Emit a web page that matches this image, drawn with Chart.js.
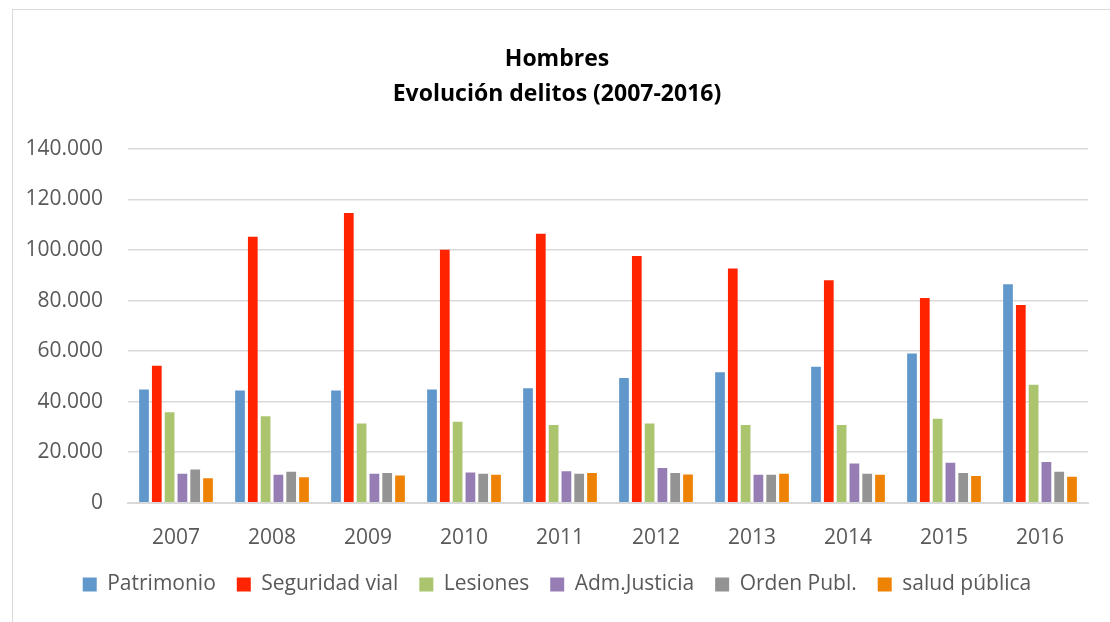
<!DOCTYPE html>
<html>
<head>
<meta charset="utf-8">
<script src="https://cdn.jsdelivr.net/npm/chart.js@4"></script>
<style>
  html, body { margin: 0; padding: 0; background: #fff; overflow: hidden; }
  .frame {
    position: absolute; left: 12px; top: 9px; width: 1110px; height: 630px;
    border: 1px solid #d9d9d9; box-sizing: border-box;
  }
  .box { position: absolute; left: 13px; top: 10px; width: 1097px; height: 612px; }
</style>
</head>
<body>
<div class="frame"></div>
<div class="box"><canvas id="chart"></canvas></div>
<script>
// Data
const years = ["2007", "2008", "2009", "2010", "2011", "2012", "2013", "2014", "2015", "2016"]
const patrimonio = [44800, 44400, 44400, 44800, 45300, 49400, 51600, 53800, 59100, 86500]
const seguridadVial = [54200, 105300, 114600, 100100, 106400, 97600, 92700, 88000, 81000, 78300]
const lesiones = [35800, 34200, 31400, 32100, 30800, 31400, 30800, 30800, 33300, 46700]
const admJusticia = [11500, 11100, 11500, 12000, 12500, 13800, 11100, 15500, 15800, 16100]
const ordenPubl = [13200, 12300, 11800, 11500, 11500, 11800, 11100, 11500, 11800, 12300]
const saludPublica = [9700, 10100, 10800, 11100, 11800, 11200, 11500, 11100, 10600, 10300]

const seriesNames = ["Patrimonio", "Seguridad vial", "Lesiones", "Adm.Justicia", "Orden Publ.", "salud pública"]
const seriesColors = ["#6198CC", "#FF2400", "#ABC46E", "#967EB4", "#939393", "#EE8205"]
const seriesData = [patrimonio, seguridadVial, lesiones, admJusticia, ordenPubl, saludPublica]

const textColor = "#595959"
const fontFamily = "'Open Sans', sans-serif"
const legendGap = "\u2002\u2002" // spacing between legend entries

// 140000 -> "140.000"
function fmt(v) {
  if (v === 0) return "0"
  return String(Math.round(v)).replace(/\B(?=(\d{3})+(?!\d))/g, ".")
}

document.addEventListener("DOMContentLoaded", () => {
  const ctx = document.getElementById("chart").getContext("2d")

  new Chart(ctx, {
    type: "bar",
    data: {
      labels: years,
      datasets: seriesData.map((d, i) => ({
        label: seriesNames[i],
        data: d,
        backgroundColor: seriesColors[i],
        borderWidth: 0,
        categoryPercentage: 0.8,
        barPercentage: 0.76,
      })),
    },
    options: {
      responsive: true,
      maintainAspectRatio: false,
      animation: false,
      layout: { padding: { left: 13, right: 22, top: 0, bottom: 17 } },
      plugins: {
        title: {
          display: true,
          text: ["Hombres", "Evolución delitos (2007-2016)"],
          color: "#000000",
          font: { family: fontFamily, size: 23, weight: "bold", lineHeight: 1.52 },
          padding: { top: 32, bottom: 37 },
        },
        legend: {
          position: "bottom",
          labels: {
            color: textColor,
            font: { family: fontFamily, size: 21 },
            boxWidth: 14,
            boxHeight: 14,
            padding: 0,
            generateLabels: (chart) => {
              const items = Chart.defaults.plugins.legend.labels.generateLabels(chart)
              items.forEach((it, i) => {
                if (i < items.length - 1) it.text = it.text + legendGap
              })
              return items
            },
          },
        },
        tooltip: { enabled: false },
      },
      scales: {
        x: {
          grid: { display: false, drawTicks: false },
          border: { display: true, color: "#d9d9d9", width: 2 },
          ticks: {
            color: textColor,
            font: { family: fontFamily, size: 21 },
            padding: 23,
          },
        },
        y: {
          min: 0,
          max: 140000,
          afterFit: (scale) => { scale.width = 102 },
          grid: { color: "#d9d9d9", lineWidth: 1.5, drawTicks: false },
          border: { display: false },
          ticks: {
            stepSize: 20000,
            color: textColor,
            font: { family: fontFamily, size: 21 },
            padding: 25,
            callback: (value) => fmt(value),
          },
        },
      },
    },
  })
})
</script>
</body>
</html>
